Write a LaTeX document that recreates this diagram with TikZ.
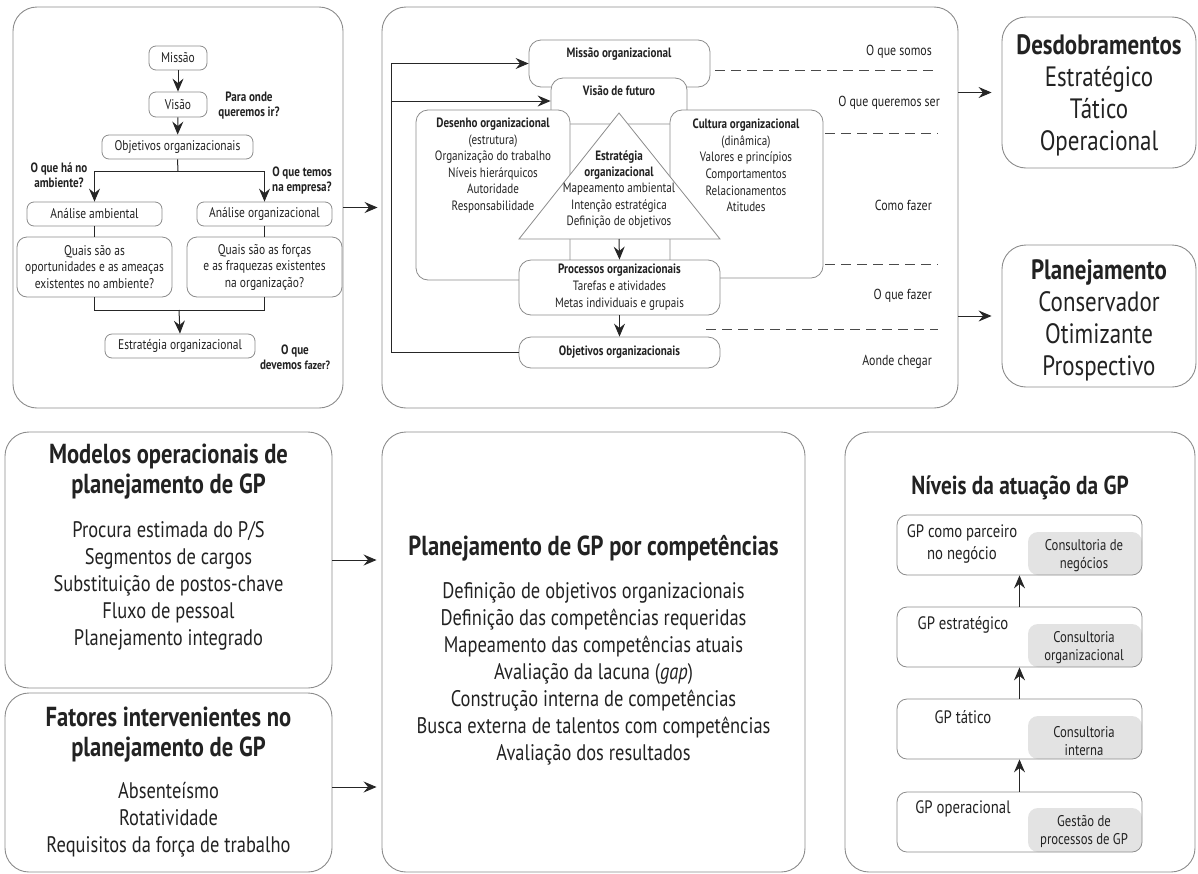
\documentclass[tikz,border=0pt]{standalone}
\usepackage{fontspec}
\setmainfont{PT Sans}[FakeStretch=0.82]
\usetikzlibrary{arrows.meta,calc}

\definecolor{bordc}{HTML}{8C8C8C}
\definecolor{txtc}{HTML}{222222}
\definecolor{shade}{HTML}{E3E3E3}
\definecolor{dashc}{HTML}{4A4A4A}

\newcommand{\fsz}[2]{\fontsize{#1}{#2}\selectfont}
% rounded box given by its corners: style, name, x1, y1, x2, y2, text
\newcommand{\boxat}[7]{%
  \pgfmathsetmacro{\myBW}{#5-#3}\pgfmathsetmacro{\myBH}{#6-#4}%
  \node[#1, minimum width=\myBW pt, minimum height=\myBH pt] (#2) at ({(#3+#5)/2},{(#4+#6)/2}) {#7};}

\begin{document}
\begin{tikzpicture}[x=1pt,y=-1pt,
  panel/.style={draw=bordc, line width=0.9pt, rounded corners=24pt, fill=white, inner sep=0pt},
  box/.style={draw=bordc, line width=0.8pt, rounded corners=7pt, fill=white, inner sep=0pt, text=txtc, align=center, font=\fsz{14}{16.5}},
  mbox/.style={box, rounded corners=12pt},
  graybox/.style={fill=shade, rounded corners=10pt, inner sep=0pt},
  txt/.style={text=txtc, align=center, inner sep=0pt},
  ask/.style={txt, font=\fsz{13.5}{15}\bfseries},
  mid/.style={txt, font=\fsz{13.5}{16.6}},
  side/.style={txt, font=\fsz{14.5}{16}, anchor=east},
  big/.style={txt, font=\fsz{28}{32}},
  ttl/.style={txt, font=\fsz{27.5}{30}\bfseries},
  item/.style={txt, font=\fsz{22.5}{27}},
  lvl/.style={txt, font=\fsz{18}{22}},
  glab/.style={txt, font=\fsz{15.5}{18}},
  link/.style={line width=1pt, black!85},
  arr/.style={link, -{Stealth[length=13pt,width=11pt,inset=4.5pt]}},
  dline/.style={dashc, line width=0.9pt, dash pattern=on 10pt off 6pt},
]
\useasboundingbox (0,0) rectangle (1198,873);

% ---------------- outer panels ----------------
\boxat{panel}{pTL}{13}{7}{343}{408}{}
\boxat{panel}{pTM}{382}{7}{958}{408}{}
\boxat{panel}{desdob}{1002}{17}{1196}{168}{}
\boxat{panel}{planRt}{1002}{245}{1196}{387}{}
\boxat{panel}{modelos}{5}{432}{332}{688}{}
\boxat{panel}{fatores}{5}{693}{332}{872}{}
\boxat{panel}{planComp}{382}{432}{805}{872}{}
\boxat{panel}{niveis}{845}{432}{1195}{872}{}

% ---------------- strategy flow (top left) ----------------
\boxat{box}{missao}{149}{46}{207}{70}{Missão}
\boxat{box}{visao}{149}{92}{207}{117}{Visão}
\boxat{box}{objA}{102}{135}{253}{159}{Objetivos organizacionais}
\boxat{box}{anaAmb}{27}{202}{162}{226}{Análise ambiental}
\boxat{box}{anaOrg}{197}{202}{332}{226}{Análise organizacional}
\boxat{box, rounded corners=10pt}{quaisA}{17}{237}{172}{297}{Quais são as\\oportunidades e as ameaças\\existentes no ambiente?}
\boxat{box, rounded corners=10pt}{quaisO}{187}{237}{342}{297}{Quais são as forças\\e as fraquezas existentes\\na organização?}
\boxat{box}{estrA}{105}{334}{255}{358}{Estratégia organizacional}

\node[ask] (qIr) at (249,106) {Para onde\\queremos ir?};
\node[ask] (qAmb) at (59,175) {O que há no\\ambiente?};
\node[ask] (qEmp) at (302,181) {O que temos\\na empresa?};
\node[ask] (qFaz) at (295,357) {O que\\devemos {\fsz{12}{15}fazer?}};

\coordinate (j1) at (178,171);
\coordinate (j2) at (179,310);
\draw[arr] (missao) -- (visao);
\draw[arr] (visao) -- (objA);
\draw[link] (objA.south) -- (j1);
\draw[arr] (j1) -| (anaAmb.north);
\draw[arr] (j1) -| (anaOrg.north);
\draw[link] (anaAmb.south) -- (quaisA.north);
\draw[link] (anaOrg.south) -- (quaisO.north);
\draw[link] (quaisA.south) |- (j2);
\draw[link] (quaisO.south) |- (j2);
\draw[arr] (j2) -- (estrA.north);

\draw[arr, shorten >=4pt] (pTL.east) -- (pTM.west);

% ---------------- organisational model (top middle) ----------------
\boxat{mbox}{missF}{529}{40}{710}{87}{}
\node[txt, font=\fsz{13.5}{16}\bfseries] (tMiss) at (619,54) {Missão organizacional};
\boxat{mbox}{visF}{551}{78}{687}{124}{}
\node[txt, font=\fsz{13.5}{16}\bfseries] (tVis) at (619,91) {Visão de futuro};
\boxat{mbox}{desF}{416}{110}{570}{280}{}
\node[mid] (tDes) at (493,165.5) {\textbf{Desenho organizacional}\\(estrutura)\\Organização do trabalho\\Níveis hierárquicos\\Autoridade\\Responsabilidade};
\boxat{mbox}{culF}{670}{110}{823}{278}{}
\node[mid] (tCul) at (746,165.5) {\textbf{Cultura organizacional}\\(dinâmica)\\Valores e princípios\\Comportamentos\\Relacionamentos\\Atitudes};

\coordinate (triL) at (519,239);
\coordinate (triR) at (720,239);
\coordinate (triT) at (619,113);
\coordinate (triB) at (619,239);
\draw[bordc, line width=0.8pt, fill=white] (triL) -- (triT) -- (triR) -- cycle;
\node[txt, font=\fsz{13.5}{16.3}] (tTri) at (619,189.5) {\textbf{Estratégia}\\\textbf{organizacional}\\Mapeamento ambiental\\Intenção estratégica\\Definição de objetivos};

\boxat{mbox, font=\fsz{13.5}{17}}{procF}{519}{260}{720}{315}{\textbf{Processos organizacionais}\\Tarefas e atividades\\Metas individuais e grupais}
\boxat{mbox, font=\fsz{13.5}{16}\bfseries}{objF}{519}{337}{720}{368}{Objetivos organizacionais}

\draw[arr] (triB) -- (procF.north);
\draw[arr] (procF.south) -- (objF.north);

\coordinate (fbx) at (391,0);
\draw[arr] (objF.west) -- (objF.west -| fbx) |- (missF.west);
\draw[arr] (visF.west -| fbx) -- (visF.west);

% levels and guiding questions
\coordinate (d1a) at (715,70);  \coordinate (d1b) at (938,70);
\coordinate (d2a) at (825,133); \coordinate (d2b) at (938,133);
\coordinate (d3a) at (825,264); \coordinate (d3b) at (938,264);
\coordinate (d4a) at (706,329); \coordinate (d4b) at (938,329);
\draw[dline] (d1a) -- (d1b);
\draw[dline] (d2a) -- (d2b);
\draw[dline] (d3a) -- (d3b);
\draw[dline] (d4a) -- (d4b);
\node[side] (sSom) at (932,52) {O que somos};
\node[side] (sSer) at (940,103) {O que queremos ser};
\node[side] (sCom) at (932,205) {Como fazer};
\node[side] (sFaz) at (932,296) {O que fazer};
\node[side] (sChe) at (932,362) {Aonde chegar};

% ---------------- right column ----------------
\node[big] (tDesd) at (1099,95) {\textbf{Desdobramentos}\\Estratégico\\Tático\\Operacional};
\node[big] (tPlan) at (1099,320) {\textbf{Planejamento}\\Conservador\\Otimizante\\Prospectivo};
\draw[arr, shorten >=10pt] (pTM.east |- desdob.west) -- (desdob.west);
\draw[arr, shorten >=10pt] (pTM.east |- planRt.west) -- (planRt.west);

% ---------------- bottom left ----------------
\node[ttl] (tMod) at (168.5,472) {Modelos operacionais de\\planejamento de GP};
\node[item] (iMod) at (168.5,586) {Procura estimada do P/S\\Segmentos de cargos\\Substituição de postos-chave\\Fluxo de pessoal\\Planejamento integrado};
\node[ttl] (tFat) at (168.5,735) {Fatores intervenientes no\\planejamento de GP};
\node[item] (iFat) at (168.5,820) {Absenteísmo\\Rotatividade\\Requisitos da força de trabalho};

\draw[arr, shorten >=5pt] (modelos.east) -- (modelos.east -| planComp.west);
\draw[arr, shorten >=5pt] ($(fatores.east)+(0,4.5)$) -- ($(fatores.east -| planComp.west)+(0,4.5)$);

% ---------------- bottom middle ----------------
\node[ttl] (tComp) at (593.5,548) {Planejamento de GP por competências};
\node[item] (iComp) at (593.5,674) {Definição de objetivos organizacionais\\Definição das competências requeridas\\Mapeamento das competências atuais\\Avaliação da lacuna (\textit{gap})\\Construção interna de competências\\Busca externa de talentos com competências\\Avaliação dos resultados};

% ---------------- bottom right ----------------
\node[txt, font=\fsz{26}{30}\bfseries] (tNiv) at (1020,488) {Níveis da atuação da GP};

\boxat{graybox}{g1}{1028}{532}{1142}{575}{}
\boxat{graybox}{g2}{1028}{624}{1142}{667}{}
\boxat{graybox}{g3}{1028}{716}{1142}{759}{}
\boxat{graybox}{g4}{1028}{808}{1142}{852}{}
\boxat{box, fill=none, rounded corners=10pt}{lv1}{897}{515}{1142}{575}{}
\boxat{box, fill=none, rounded corners=10pt}{lv2}{897}{607}{1142}{667}{}
\boxat{box, fill=none, rounded corners=10pt}{lv3}{897}{699}{1142}{759}{}
\boxat{box, fill=none, rounded corners=10pt}{lv4}{897}{792}{1142}{852}{}

\node[lvl] (l1) at (962,544) {GP como parceiro\\no negócio};
\node[lvl] (l2) at (963,625) {GP estratégico};
\node[lvl] (l3) at (963,717) {GP tático};
\node[lvl] (l4) at (963,809) {GP operacional};
\node[glab] (c1) at (1084,556) {Consultoria de\\negócios};
\node[glab] (c2) at (1084,648) {Consultoria\\organizacional};
\node[glab] (c3) at (1084,741) {Consultoria\\interna};
\node[glab] (c4) at (1084,832) {Gestão de\\processos de GP};

\draw[arr] (lv4.north) -- (lv3.south);
\draw[arr] (lv3.north) -- (lv2.south);
\draw[arr] (lv2.north) -- (lv1.south);
\end{tikzpicture}
\end{document}
